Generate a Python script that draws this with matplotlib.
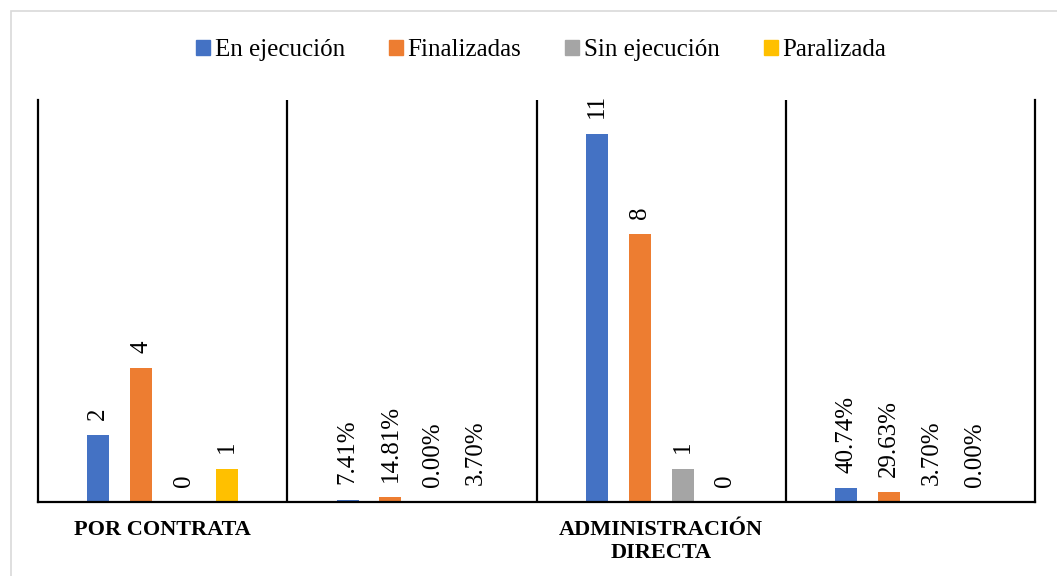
import matplotlib.pyplot as plt
from matplotlib.patches import Rectangle, Patch
import numpy as np

plt.rcParams['font.family'] = ['Liberation Serif', 'DejaVu Serif']

categories = ['POR CONTRATA', '', 'ADMINISTRACIÓN\nDIRECTA', '']
series = ['En ejecución', 'Finalizadas', 'Sin ejecución', 'Paralizada']
en_ejecucion = [2, 0.0741, 11, 0.4074]
finalizadas = [4, 0.1481, 8, 0.2963]
sin_ejecucion = [0, 0.0000, 1, 0.0370]
paralizada = [1, 0.0370, 0, 0.0000]
labels = [
    ['2', '7.41%', '11', '40.74%'],
    ['4', '14.81%', '8', '29.63%'],
    ['0', '0.00%', '1', '3.70%'],
    ['1', '3.70%', '0', '0.00%'],
]
colors = ['#4472C4', '#ED7D31', '#A5A5A5', '#FFC000']

fig = plt.figure(figsize=(10.57, 5.76), dpi=100)
ax = fig.add_axes([38 / 1057, 1 - 502 / 576, (1035 - 38) / 1057, (502 - 100) / 576])

# light outer frame
fig.patches.append(Rectangle((11 / 1057, -0.1), 1.2, 1 - 11 / 576 + 0.1,
                             transform=fig.transFigure, fill=False,
                             edgecolor='#d9d9d9', linewidth=1.2))

x = np.arange(len(categories))
step = 0.172
width = 0.088
values = [en_ejecucion, finalizadas, sin_ejecucion, paralizada]
for i, vals in enumerate(values):
    pos = x + (i - 1.5) * step
    ax.bar(pos, vals, width=width, color=colors[i], label=series[i])
    for xp, v, lab in zip(pos, vals, labels[i]):
        ax.annotate(lab, (xp, v), xytext=(0, 11), textcoords='offset points',
                    rotation=90, ha='center', va='bottom', fontsize=18)

ax.set_xlim(-0.5, 3.5)
ax.set_ylim(0, 12)
ax.set_yticks([])
ax.set_xticks(x)
ax.set_xticklabels(categories, fontsize=16, fontweight='bold', linespacing=1.2)
ax.tick_params(axis='x', length=0, pad=13)

for b in [0.5, 1.5, 2.5]:
    ax.axvline(b, color='black', linewidth=1.6)
ax.spines['top'].set_visible(False)
for s in ['left', 'right', 'bottom']:
    ax.spines[s].set_linewidth(1.6)
    ax.spines[s].set_color('black')

handles = [Patch(color=c) for c in colors]
fig.legend(handles, series, loc='center', bbox_to_anchor=(541 / 1057, 1 - 50 / 576),
           ncol=4, frameon=False, fontsize=18, handlelength=0.56, handleheight=0.56,
           handletextpad=0.2, columnspacing=1.75)

fig.savefig('out.png', dpi=100)
